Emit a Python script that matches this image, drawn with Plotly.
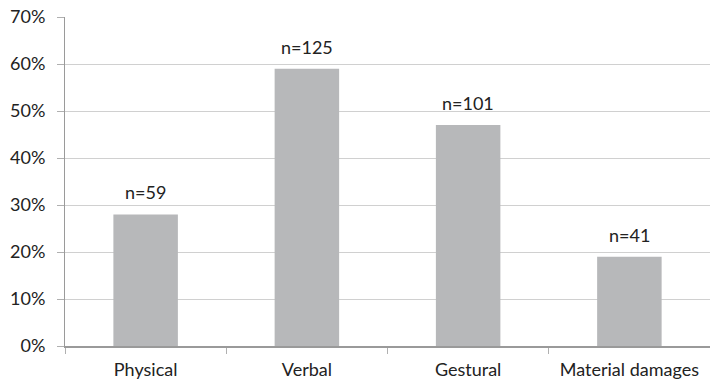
import plotly.graph_objects as go

categories = ["Physical", "Verbal", "Gestural", "Material damages"]
values = [0.28, 0.59, 0.47, 0.19]
counts = ["n=59", "n=125", "n=101", "n=41"]

FONT = "Lato"
FS = 18
TXT = "#222222"

fig = go.Figure()
fig.add_trace(go.Bar(x=categories, y=values, marker=dict(color="#B7B8BA", line=dict(width=0)),
                     hoverinfo="skip"))
for c, v, t in zip(categories, values, counts):
    fig.add_annotation(x=c, y=v, text=t, showarrow=False, yanchor="bottom", yshift=9,
                       font=dict(family=FONT, size=FS, color=TXT))

fig.update_layout(
    width=710, height=383,
    margin=dict(l=65, r=0, t=17, b=37),
    paper_bgcolor="white", plot_bgcolor="white",
    bargap=0.6, showlegend=False,
    font=dict(family=FONT, size=FS, color=TXT),
)
fig.update_xaxes(
    type="category", showgrid=False, showline=True, linecolor="#9A9A9A", linewidth=2,
    ticks="outside", tickson="boundaries", ticklen=6, tickcolor="#B0B0B0", tickwidth=1,
    tickfont=dict(family=FONT, size=FS, color=TXT), automargin=False, ticklabelstandoff=6,
)
fig.update_yaxes(
    range=[0, 0.7], dtick=0.1, tickformat=".0%", showgrid=True, gridcolor="#D0D0D0", gridwidth=1,
    showline=True, linecolor="#9A9A9A", linewidth=1, ticks="outside", ticklen=7,
    tickcolor="#B0B0B0", tickfont=dict(family=FONT, size=FS, color=TXT),
    zeroline=False, automargin=False, ticklabelstandoff=8,
)
fig.write_html("out.html", config={"displayModeBar": False},
               post_script="document.body.style.margin='0';document.body.style.overflow='hidden';")
